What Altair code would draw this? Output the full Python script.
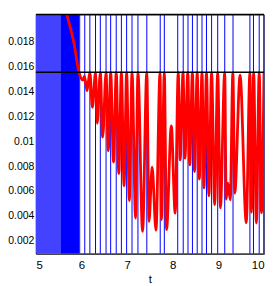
import altair as alt
import pandas as pd

# axis ranges and ticks
x_domain = [5, 10]
y_domain = [0.00096, 0.0202]
x_ticks = [5, 6, 7, 8, 9, 10]
y_ticks = [0.002, 0.004, 0.006, 0.008, 0.01, 0.012, 0.014, 0.016, 0.018]

# horizontal threshold level (black line)
level = [0.01555]

# dense blue band (many overlapping oscillations)
band_light_t = [5.0]
band_light_t2 = [5.55]
band_dark_t = [5.55]
band_dark_t2 = [5.945]

# sparse blue spikes (vertical lines)
blue_t = [5.960, 6.071, 6.183, 6.307, 6.412, 6.538, 6.639, 6.761, 6.874, 6.989,
          7.107, 7.237, 7.431, 7.725, 7.815, 8.109, 8.229, 8.334, 8.431, 8.536,
          8.641, 8.739, 8.851, 8.985, 9.139, 9.321, 9.691, 9.769, 9.895, 9.994]

# red curve
red_t = [5.600, 5.679, 5.834, 5.945, 6.029, 6.065, 6.120, 6.183, 6.239, 6.307,
         6.345, 6.412, 6.464, 6.538, 6.586, 6.639, 6.702, 6.761, 6.817, 6.874,
         6.933, 6.989, 7.048, 7.107, 7.185, 7.237, 7.338, 7.431, 7.479, 7.548,
         7.632, 7.721, 7.752, 7.815, 7.863, 7.968, 8.053, 8.120, 8.162, 8.225,
         8.267, 8.330, 8.372, 8.431, 8.477, 8.536, 8.582, 8.641, 8.683, 8.739,
         8.792, 8.851, 8.918, 8.985, 9.044, 9.139, 9.170, 9.208, 9.261, 9.317,
         9.359, 9.475, 9.611, 9.691, 9.723, 9.773, 9.832, 9.895, 9.943, 10.000]
red_v = [0.0214, 0.0202, 0.0179, 0.01555, 0.01493, 0.01524, 0.01407, 0.01555, 0.01273, 0.01555,
         0.01145, 0.01555, 0.01033, 0.01555, 0.00925, 0.01555, 0.00832, 0.01555, 0.00740, 0.01555,
         0.00642, 0.01555, 0.00523, 0.01555, 0.00382, 0.01555, 0.00275, 0.01555, 0.00355, 0.00792,
         0.00283, 0.01555, 0.00369, 0.01555, 0.00288, 0.01123, 0.00422, 0.01555, 0.00850, 0.01555,
         0.00864, 0.01555, 0.00810, 0.01555, 0.00756, 0.01555, 0.00695, 0.01555, 0.00625, 0.01555,
         0.00561, 0.01555, 0.00489, 0.01555, 0.00465, 0.01555, 0.00535, 0.00663, 0.00529, 0.01555,
         0.00583, 0.01533, 0.00344, 0.01555, 0.00429, 0.01555, 0.00342, 0.01555, 0.00425, 0.01555]

FONT = "Liberation Sans, Arial, sans-serif"

xs = alt.Scale(domain=x_domain, nice=False, zero=False)
ys = alt.Scale(domain=y_domain, nice=False, zero=False)

x_axis = alt.Axis(values=x_ticks, format="d", tickSize=0, grid=False,
                  labelOverlap=False,
                  domainColor="black", labelFont=FONT, labelFontSize=11.5,
                  labelColor="black", labelPadding=6, title="t",
                  titleFont=FONT, titleFontSize=11.5, titleFontWeight="normal",
                  titleColor="black", titlePadding=3)
y_axis = alt.Axis(values=y_ticks, format="~g", tickSize=0, grid=False,
                  labelOverlap=False,
                  domainColor="black", labelFont=FONT, labelFontSize=10.5,
                  labelColor="black", labelPadding=2, title="")

band_light = alt.Chart(pd.DataFrame({"t": band_light_t, "t2": band_light_t2})).mark_rect(
    color="#4242ff").encode(
    x=alt.X("t:Q", scale=xs, axis=x_axis), x2="t2:Q",
    y=alt.datum(y_domain[0], scale=ys, axis=y_axis), y2=alt.datum(y_domain[1]))

band_dark = alt.Chart(pd.DataFrame({"t": band_dark_t, "t2": band_dark_t2})).mark_rect(
    color="#0000ff").encode(
    x=alt.X("t:Q", scale=xs, axis=x_axis), x2="t2:Q",
    y=alt.datum(y_domain[0], scale=ys, axis=y_axis), y2=alt.datum(y_domain[1]))

blue = alt.Chart(pd.DataFrame({"t": blue_t})).mark_rule(
    color="#0000ff", strokeWidth=1).encode(x=alt.X("t:Q", scale=xs, axis=x_axis))

red = alt.Chart(pd.DataFrame({"t": red_t, "v": red_v})).mark_line(
    color="#ff0000", strokeWidth=2.8, interpolate="monotone", clip=True).encode(
    x=alt.X("t:Q", scale=xs, axis=x_axis), y=alt.Y("v:Q", scale=ys, axis=y_axis))

hline = alt.Chart(pd.DataFrame({"v": level})).mark_rule(
    color="black", strokeWidth=1.6).encode(y=alt.Y("v:Q", scale=ys, axis=y_axis))

top = alt.Chart(pd.DataFrame({"v": [y_domain[1]]})).mark_rule(
    color="black", strokeWidth=1.5).encode(y=alt.Y("v:Q", scale=ys, axis=y_axis))

chart = alt.layer(band_light, band_dark, blue, red, hline, top).properties(
    width=229, height=240,
    autosize=alt.AutoSizeParams(type="none"),
    padding={"left": 28, "top": 6, "right": 2, "bottom": 30},
    background="white",
).configure_view(stroke="#666666", strokeWidth=1
).configure_axis(labelOverlap=False)

chart.save("out.html", embed_options={"renderer": "svg", "actions": False})
